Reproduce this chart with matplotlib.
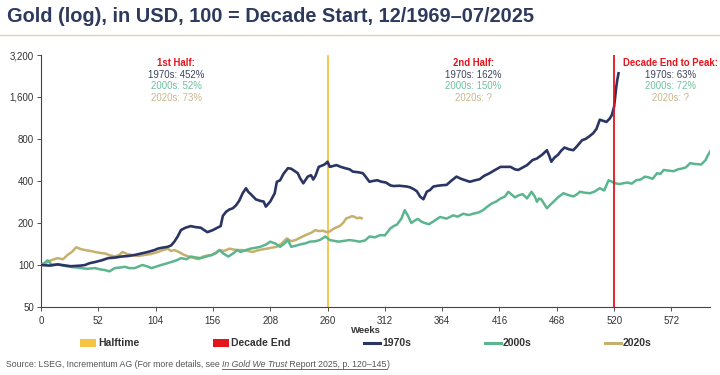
import matplotlib
matplotlib.use("Agg")
import matplotlib.pyplot as plt
from matplotlib.patches import Rectangle
from matplotlib.lines import Line2D
import matplotlib.transforms as mtransforms

plt.rcParams['font.family'] = ['Liberation Sans', 'DejaVu Sans']

# ---------------- data ----------------
weeks_1970s = [0, 8, 15, 27, 36, 40, 44, 49, 55, 61, 67, 73, 79, 85, 91, 97, 103, 106, 110, 115, 118, 121,
               124, 127, 131, 136, 140, 145, 148, 151, 156, 160, 163, 165, 168, 171, 174, 177, 180, 183, 186,
               188, 191, 195, 199, 202, 204, 208, 212, 214, 217, 220, 224, 227, 230, 233, 235, 238, 242, 245,
               247, 249, 252, 256, 258, 260, 262, 265, 268, 272, 276, 280, 283, 288, 292, 295, 298, 301, 305,
               309, 313, 317, 320, 325, 329, 332, 335, 338, 341, 344, 347, 350, 353, 356, 360, 364, 368, 372,
               377, 381, 385, 389, 394, 398, 402, 407, 412, 417, 421, 426, 430, 433, 437, 441, 446, 450, 455,
               459, 461, 463, 466, 469, 472, 475, 479, 483, 487, 491, 494, 497, 501, 504, 507, 510, 513, 516,
               518, 520, 521, 522, 523, 524]
gold_1970s = [100, 99, 101, 98, 99, 100, 103, 105, 108, 112, 113, 115, 116, 118, 121, 124, 128, 131, 133, 135, 138, 147,
              160, 178, 185, 190, 187, 185, 178, 172, 178, 185, 190, 225, 241, 250, 255, 268, 290, 327, 355,
              335, 318, 295, 288, 285, 262, 285, 326, 395, 405, 450, 494, 490, 472, 455, 420, 385, 430, 440,
              410, 435, 505, 520, 530, 550, 505, 512, 520, 505, 494, 485, 467, 462, 455, 425, 395, 400, 405,
              395, 390, 372, 368, 370, 367, 365, 360, 350, 338, 309, 296, 335, 345, 365, 370, 373, 375, 400,
              430, 415, 405, 395, 405, 412, 435, 455, 480, 505, 505, 505, 485, 480, 500, 520, 565, 580, 620,
              665, 610, 550, 590, 615, 660, 695, 675, 665, 720, 785, 800, 830, 880, 945, 1100, 1080, 1060, 1120,
              1190, 1366, 1600, 1900, 2150, 2366]

weeks_2000s = [0, 3, 6, 10, 14, 18, 23, 27, 32, 36, 42, 49, 54, 58, 62, 67, 72, 76, 80, 85, 92, 96, 100,
               104, 109, 113, 118, 123, 127, 132, 136, 141, 145, 150, 155, 159, 162, 166, 170, 175, 178, 181,
               186, 190, 195, 199, 204, 208, 213, 217, 221, 224, 227, 232, 236, 240, 244, 249, 253, 258, 262,
               266, 270, 275, 280, 285, 289, 294, 298, 303, 308, 312, 317, 320, 323, 327, 330, 333, 336, 339,
               342, 345, 348, 352, 356, 362, 368, 374, 378, 383, 388, 392, 397, 401, 405, 409, 413, 417, 421,
               424, 427, 430, 433, 437, 441, 445, 448, 450, 452, 454, 457, 459, 462, 465, 469, 474, 478, 483,
               486, 489, 493, 498, 502, 507, 511, 515, 518, 521, 525, 528, 532, 536, 540, 544, 548, 551, 555,
               559, 562, 565, 569, 574, 578, 581, 585, 589, 593, 596, 599, 601, 603, 605, 607]
gold_2000s = [100, 103, 108, 100, 101, 100, 98, 97, 96, 95, 94, 95, 93, 92, 90, 95, 96, 97, 95, 95, 100, 98, 95,
              97, 100, 102, 105, 108, 112, 110, 115, 113, 112, 115, 118, 122, 128, 120, 115, 122, 128, 124,
              128, 131, 133, 135, 140, 147, 142, 135, 143, 151, 135, 138, 141, 143, 147, 148, 151, 160, 151,
              149, 147, 149, 151, 149, 147, 150, 160, 158, 164, 163, 183, 190, 195, 215, 247, 225, 200, 208,
              214, 205, 200, 196, 205, 221, 215, 227, 222, 233, 228, 233, 238, 247, 262, 276, 285, 300, 310,
              335, 320, 305, 315, 322, 300, 335, 310, 284, 300, 295, 270, 255, 270, 284, 305, 327, 318, 310,
              320, 335, 330, 327, 335, 355, 342, 405, 395, 385, 380, 385, 390, 383, 405, 410, 430, 425, 415,
              455, 450, 480, 475, 470, 485, 490, 500, 537, 530, 528, 525, 545, 565, 610, 650]

weeks_2020s = [0, 5, 9, 15, 20, 24, 28, 32, 36, 40, 45, 49, 54, 58, 63, 67, 71, 74, 78, 82, 88, 94, 100,
               106, 111, 115, 118, 121, 125, 130, 134, 139, 143, 147, 151, 155, 158, 162, 166, 171, 175, 178,
               183, 188, 192, 196, 200, 205, 209, 214, 218, 223, 227, 231, 236, 241, 245, 249, 252, 256, 259,
               262, 265, 268, 271, 274, 277, 280, 282, 284, 287, 289, 291]
gold_2020s = [100, 104, 108, 112, 110, 118, 124, 134, 130, 128, 126, 124, 122, 121, 117, 115, 118, 124, 120, 118,
              116, 118, 120, 124, 128, 131, 126, 128, 124, 118, 115, 112, 110, 115, 117, 118, 122, 128, 126,
              131, 129, 128, 128, 126, 124, 127, 129, 131, 133, 135, 142, 155, 148, 151, 158, 165, 170, 178,
              175, 176, 172, 174, 181, 186, 190, 200, 216, 220, 224, 222, 216, 219, 216]

halftime_week = 260
decade_end_week = 520

y_ticks = [50, 100, 200, 400, 800, 1600, 3200]
y_ticklabels = ["50", "100", "200", "400", "800", "1,600", "3,200"]
x_ticks = [0, 52, 104, 156, 208, 260, 312, 364, 416, 468, 520, 572]

ann_1st = ["1st Half:", "1970s: 452%", "2000s: 52%", "2020s: 73%"]
ann_2nd = ["2nd Half:", "1970s: 162%", "2000s: 150%", "2020s: ?"]
ann_peak = ["Decade End to Peak:", "1970s: 63%", "2000s: 72%", "2020s: ?"]

legend_labels = ["Halftime", "Decade End", "1970s", "2000s", "2020s"]

# ---------------- styles ----------------
NAVY = "#2b3563"
GREEN = "#5bb58e"
TAN = "#c6b06e"
YELLOW = "#f6c443"
RED = "#e4141c"
TITLE_C = "#2d3a5e"
TXT = "#333333"
ann_colors = [RED, "#3c435e", "#6cc19f", "#c8b78c"]

W, H = 720, 375
fig = plt.figure(figsize=(7.2, 3.75), dpi=100)
ax = fig.add_axes([41/W, 1-307/H, (710-41)/W, (307-55)/H])

ax.plot(weeks_2020s, gold_2020s, color=TAN, lw=1.8, zorder=3)
ax.plot(weeks_2000s, gold_2000s, color=GREEN, lw=1.8, zorder=3)
ax.plot(weeks_1970s, gold_1970s, color=NAVY, lw=1.9, zorder=4)
ax.axvline(halftime_week, color=YELLOW, lw=1.3, zorder=2)
ax.axvline(decade_end_week, color=RED, lw=1.3, zorder=5)

ax.set_yscale('log')
ax.set_ylim(50, 3200)
ax.set_xlim(0, 607)
ax.set_yticks(y_ticks)
ax.set_yticklabels(y_ticklabels)
ax.yaxis.set_minor_locator(matplotlib.ticker.NullLocator())
ax.set_xticks(x_ticks)
ax.tick_params(axis='both', labelsize=7, colors=TXT, length=3, width=0.6, direction='out')
ax.tick_params(axis='y', pad=2)
for s in ['top', 'right']:
    ax.spines[s].set_visible(False)
for s in ['left', 'bottom']:
    ax.spines[s].set_color('#444444')
    ax.spines[s].set_linewidth(0.8)
ax.set_xlabel("Weeks", fontsize=6.8, fontweight='bold', color=TXT, labelpad=2)
ax.xaxis.set_label_coords((366-41)/(710-41), -0.075)

trans = mtransforms.blended_transform_factory(ax.transData, ax.transAxes)
ys = [0.968, 0.922, 0.876, 0.830]
for xw, lines in [(122.5, ann_1st), (392, ann_2nd), (571.5, ann_peak)]:
    for i, (t, c) in enumerate(zip(lines, ann_colors)):
        ax.text(xw, ys[i], t, transform=trans, ha='center', va='center', fontsize=6.9,
                color=c, fontweight='bold' if i == 0 else 'normal')

# title and rule
fig.text(7/W, 1-22.5/H, "Gold (log), in USD, 100 = Decade Start, 12/1969\u201307/2025",
         fontsize=14.4, fontweight='bold', color=TITLE_C, ha='left', va='baseline')
fig.add_artist(Line2D([0, 1], [1-35/H, 1-35/H], transform=fig.transFigure, color="#ddd3ad", lw=1))

# legend (placed manually as in the reference)
leg_x = [80, 213, 364, 485, 605]
leg_kind = ['patch', 'patch', 'line', 'line', 'line']
leg_col = [YELLOW, RED, NAVY, GREEN, TAN]
ly = 1-343/H
for x, kind, col, lab in zip(leg_x, leg_kind, leg_col, legend_labels):
    if kind == 'patch':
        fig.add_artist(Rectangle((x/W, ly-4/H), 16/W, 8/H, transform=fig.transFigure,
                                 facecolor=col, edgecolor='none'))
    else:
        fig.add_artist(Line2D([x/W, (x+16)/W], [ly, ly], transform=fig.transFigure, color=col, lw=2.2))
    fig.text((x+18)/W, ly, lab, fontsize=7.5, fontweight='bold', color=TXT, ha='left', va='center')

# source line
renderer = fig.canvas.get_renderer()
pieces = [("Source: LSEG, Incrementum AG (For more details, see ", 'normal', False),
          ("In Gold We Trust", 'italic', True),
          (" Report 2025, p. 120\u2013145", 'normal', True),
          (")", 'normal', False)]
x0 = 6/W
ysrc = 1-367/H
for txt, style, ul in pieces:
    t = fig.text(x0, ysrc, txt, fontsize=6.3, color="#555555", style=style, ha='left', va='baseline')
    bb = t.get_window_extent(renderer=renderer)
    w = bb.width / fig.bbox.width
    if ul:
        fig.add_artist(Line2D([x0, x0 + w], [ysrc - 1.5/H, ysrc - 1.5/H],
                              transform=fig.transFigure, color="#555555", lw=0.6))
    x0 += w

fig.savefig("out.png", dpi=100)
